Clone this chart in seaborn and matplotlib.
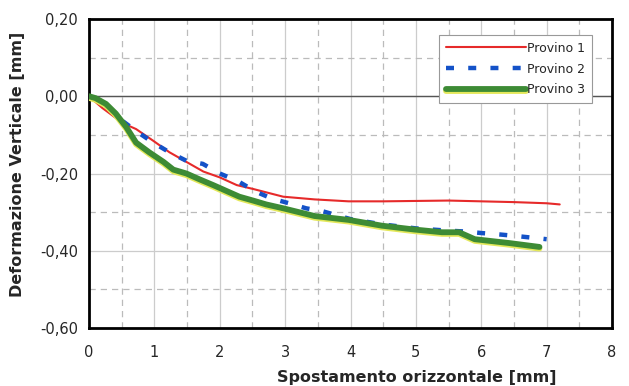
import numpy as np
import pandas as pd
import matplotlib
matplotlib.use("Agg")
import matplotlib.pyplot as plt
import matplotlib.patheffects as pe
from matplotlib.ticker import MultipleLocator, FuncFormatter
import seaborn as sns

# Provino 1
x1 = [0.0, 0.2, 0.52, 0.72, 0.98, 1.23, 1.49, 1.75, 2.0, 2.26, 2.51, 2.97, 3.45, 3.97, 4.5, 5.0, 5.5, 6.0, 6.5, 7.0, 7.2]
y1 = [0.0, -0.03, -0.07, -0.085, -0.115, -0.145, -0.17, -0.195, -0.21, -0.23, -0.24, -0.26, -0.267, -0.272, -0.272, -0.271, -0.270, -0.272, -0.274, -0.277, -0.28]

# Provino 2
x2 = [0.52, 0.72, 0.98, 1.23, 1.5, 1.74, 2.0, 2.28, 2.55, 2.8, 3.06, 3.32, 3.58, 4.0, 4.5, 5.0, 5.5, 5.75, 6.0, 6.3, 6.55, 6.83, 7.0]
y2 = [-0.065, -0.09, -0.12, -0.145, -0.168, -0.175, -0.2, -0.22, -0.247, -0.265, -0.277, -0.29, -0.298, -0.318, -0.332, -0.342, -0.348, -0.35, -0.354, -0.358, -0.362, -0.367, -0.37]

# Provino 3
x3 = [0.0, 0.1, 0.26, 0.41, 0.57, 0.72, 0.92, 1.14, 1.29, 1.49, 1.69, 1.9, 2.1, 2.3, 2.51, 2.71, 2.97, 3.45, 3.97, 4.48, 4.98, 5.4, 5.66, 5.9, 6.43, 6.89]
y3 = [0.0, -0.005, -0.02, -0.045, -0.08, -0.12, -0.145, -0.17, -0.19, -0.2, -0.215, -0.23, -0.245, -0.26, -0.27, -0.28, -0.29, -0.31, -0.32, -0.335, -0.345, -0.352, -0.352, -0.37, -0.38, -0.39]

sns.set_style("white")
plt.rcParams['font.family'] = ['DejaVu Sans']

fig = plt.figure(figsize=(6.29, 3.86), dpi=100)
ax = fig.add_axes([0.1415, 0.150, 0.8315, 0.801])

sns.lineplot(x=x1, y=y1, ax=ax, color='#e62a2a', lw=1.5, sort=False,
             estimator=None, label='Provino 1', zorder=3)
sns.lineplot(x=x2, y=y2, ax=ax, color='#1452c8', lw=3.2, sort=False,
             estimator=None, label='Provino 2', zorder=4)
ax.lines[-1].set_dashes((1.8, 3.2))
sns.lineplot(x=x3, y=y3, ax=ax, color='#3d8b35', lw=4.2, sort=False,
             estimator=None, label='Provino 3', zorder=5,
             path_effects=[pe.Stroke(offset=(0, -1.2), linewidth=4.2, foreground='#e4e85a'),
                           pe.Normal()])

ax.set_xlim(0, 8)
ax.set_ylim(-0.6, 0.2)
ax.xaxis.set_major_locator(MultipleLocator(1))
ax.xaxis.set_minor_locator(MultipleLocator(0.5))
ax.yaxis.set_major_locator(MultipleLocator(0.2))
ax.yaxis.set_minor_locator(MultipleLocator(0.1))
ax.yaxis.set_major_formatter(FuncFormatter(lambda v, p: f"{v:.2f}".replace('.', ',').replace('-0,00', '0,00')))

ax.grid(which='major', color='#cccccc', lw=0.9, ls='-')
ax.grid(which='minor', color='#bbbbbb', lw=0.9, ls=(0, (5, 4)))
ax.axhline(0, color='#555555', lw=1.0, zorder=2)

for s in ax.spines.values():
    s.set_color('black')
    s.set_linewidth(2)

ax.tick_params(axis='both', which='major', labelsize=10.5, length=0)
ax.tick_params(axis='x', pad=12)
ax.tick_params(axis='y', pad=8)
ax.tick_params(which='minor', length=0)

ax.set_xlabel('Spostamento orizzontale [mm]', fontsize=11.5, fontweight='bold')
ax.xaxis.set_label_coords(0.627, -0.135)
ax.set_ylabel('Deformazione Verticale [mm]', fontsize=11.5, fontweight='bold')
ax.yaxis.set_label_coords(-0.122, 0.53)

leg = ax.legend(loc='upper right', bbox_to_anchor=(0.962, 0.948), borderaxespad=0,
                fontsize=9, handlelength=6.4, handletextpad=0.1, borderpad=0.55,
                labelspacing=0.62, fancybox=False, framealpha=1,
                edgecolor='#999999')
leg.get_frame().set_linewidth(0.8)

fig.savefig('out.png', dpi=100, facecolor='white')
